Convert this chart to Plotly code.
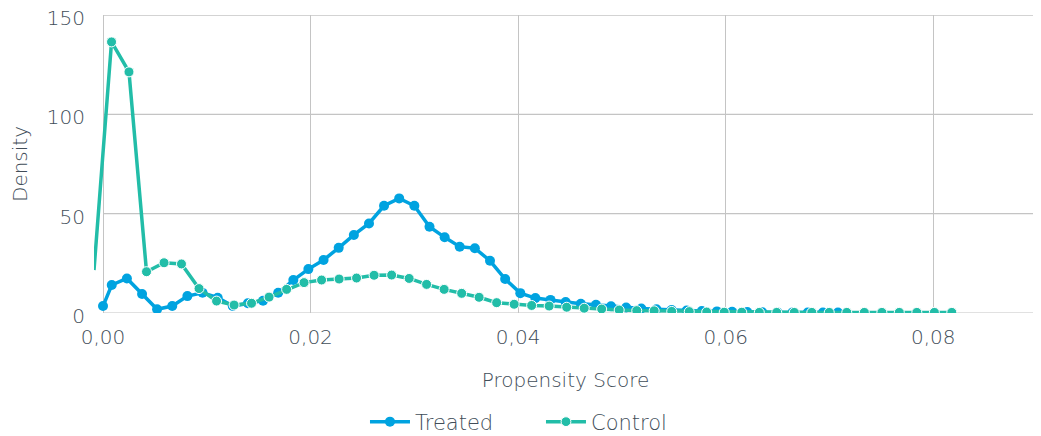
import plotly.graph_objects as go

# Data
treated_x = [0.0] + [round(0.00084 + i * 0.001458, 5) for i in range(49)]
treated_y = [3.5, 14.1, 17.4, 9.6, 1.9, 3.5, 8.5, 10.2, 7.7, 3.5,
             4.9, 6.2, 10.2, 16.6, 22.1, 26.7, 32.8, 39.3, 45.1, 54.0,
             57.7, 54.0, 43.4, 38.1, 33.4, 32.6, 26.3, 17.1, 10.0, 7.5,
             6.6, 5.5, 4.7, 4.1, 3.4, 2.8, 2.3, 1.9, 1.5, 1.3,
             1.0, 0.8, 0.6, 0.5, 0.4, 0.3, 0.3, 0.2, 0.2, 0.2]

control_x = [round(-0.00087 + i * 0.001687, 5) for i in range(50)]
control_y = [21.6, 136.5, 121.4, 20.8, 25.3, 24.7, 12.3, 6.0, 4.0, 4.9,
             8.0, 11.9, 15.3, 16.6, 17.1, 17.6, 19.0, 19.1, 17.4, 14.4,
             11.9, 9.9, 7.9, 5.2, 4.4, 3.8, 3.5, 2.9, 2.4, 2.0,
             1.5, 1.2, 1.1, 0.8, 0.7, 0.5, 0.4, 0.4, 0.3, 0.3,
             0.3, 0.3, 0.3, 0.3, 0.3, 0.3, 0.3, 0.3, 0.3, 0.3]

x_ticks = [0.0, 0.02, 0.04, 0.06, 0.08]
x_tick_labels = ["0,00", "0,02", "0,04", "0,06", "0,08"]
y_ticks = [0, 50, 100, 150]

BLUE = "#00A3E0"
TEAL = "#22BDA8"
TEXT = "#414d58"
GRID = "#c4c4c4"
FONT = "DejaVu Sans"
W = 300

fig = go.Figure()
fig.add_trace(go.Scatter(
    x=treated_x, y=treated_y, name="Treated", mode="lines+markers",
    line=dict(color=BLUE, width=3.5), marker=dict(color=BLUE, size=10, opacity=1),
))
fig.add_trace(go.Scatter(
    x=control_x, y=control_y, name="Control", mode="lines+markers",
    line=dict(color=TEAL, width=3.5),
    marker=dict(color=TEAL, opacity=1, size=[0] + [10] * (len(control_x) - 1)),
))

# horizontal gridlines from x=0 to the end of the axis
for v in y_ticks:
    fig.add_shape(type="line", xref="x", yref="y", x0=0, x1=0.09, y0=v, y1=v,
                  line=dict(color=GRID, width=1.2), layer="below")

# page body has an 8px margin, so the figure is sized to fill the rest
fig.update_layout(
    width=1033, height=428,
    margin=dict(l=86, r=4, t=7, b=123, autoexpand=False),
    paper_bgcolor="white", plot_bgcolor="white",
    font=dict(family=FONT, color=TEXT, size=20, weight=W),
    showlegend=True,
    legend=dict(orientation="h", x=0.474, xanchor="center", y=-0.297, yanchor="top",
                font=dict(size=21, color=TEXT, family=FONT, weight=W),
                itemwidth=40, entrywidth=121, entrywidthmode="pixels",
                traceorder="normal"),
    xaxis=dict(range=[-0.00087, 0.09], tickvals=x_ticks, ticktext=x_tick_labels,
               showgrid=True, gridcolor=GRID, gridwidth=1.2, zeroline=False,
               showline=False, ticks="", automargin=False, ticklabelstandoff=10,
               title=dict(text="Propensity Score", standoff=24,
                          font=dict(size=20, color=TEXT, family=FONT, weight=W)),
               tickfont=dict(size=20, color=TEXT, family=FONT, weight=W)),
    yaxis=dict(range=[0, 150.05], tickvals=y_ticks, showgrid=False, zeroline=False,
               showline=False, ticks="", ticklabelstandoff=8, automargin=False,
               ticklabeloverflow="allow", ticklabelshift=3,
               title=dict(text="Density", standoff=24,
                          font=dict(size=20, color=TEXT, family=FONT, weight=W)),
               tickfont=dict(size=20, color=TEXT, family=FONT, weight=W)),
)

fig.write_html("out.html")
